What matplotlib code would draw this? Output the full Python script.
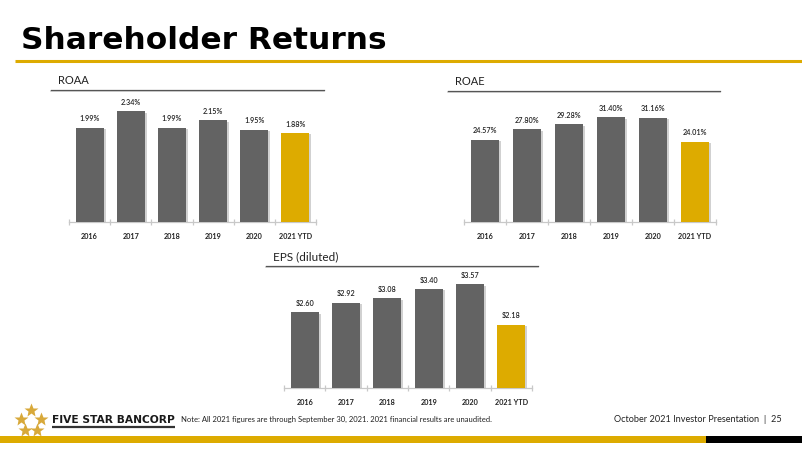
import matplotlib.pyplot as plt
from matplotlib.patches import Rectangle
import matplotlib.patheffects as pe

GRAY = '#636363'
GOLD = '#DDAB00'

years = ['2016', '2017', '2018', '2019', '2020', '2021 YTD']
roaa = [1.99, 2.34, 1.99, 2.15, 1.95, 1.88]
roae = [24.57, 27.80, 29.28, 31.40, 31.16, 24.01]
eps = [2.60, 2.92, 3.08, 3.40, 3.57, 2.18]

roaa_labels = ['%.2f%%' % v for v in roaa]
roae_labels = ['%.2f%%' % v for v in roae]
eps_labels = ['$%.2f' % v for v in eps]

W, H = 802, 451
fig = plt.figure(figsize=(W / 100, H / 100), dpi=100)

# full-figure overlay in pixel coordinates for the slide decorations
bg = fig.add_axes([0, 0, 1, 1])
bg.set_xlim(0, W)
bg.set_ylim(H, 0)
bg.axis('off')

bg.text(21, 49, 'Shareholder Returns', fontsize=22.5, fontweight='heavy',
        color='black', va='baseline', ha='left')
bg.plot([15, W], [61, 61], color=GOLD, lw=2.2, solid_capstyle='butt')


def px_axes(x0, x1, ytop, ybase):
    return fig.add_axes([x0 / W, 1 - ybase / H, (x1 - x0) / W, (ybase - ytop) / H])


def bar_panel(ax, values, labels, ymax):
    colors = [GRAY] * (len(values) - 1) + [GOLD]
    shadow = [pe.SimplePatchShadow(offset=(1.5, -1.0), shadow_rgbFace='#9a9a9a', alpha=0.45),
              pe.Normal()]
    bars = ax.bar(range(len(values)), values, width=0.68, color=colors, zorder=3)
    for b in bars:
        b.set_path_effects(shadow)
    for i, (v, lab) in enumerate(zip(values, labels)):
        ax.annotate(lab, (i, v), xytext=(0, 4), textcoords='offset points',
                    ha='center', va='bottom', fontsize=5.2, color='#222222',
                    family='Lato', fontweight='semibold')
    ax.set_xlim(-0.5, len(values) - 0.5)
    ax.set_ylim(0, ymax)
    for s in ['top', 'left', 'right']:
        ax.spines[s].set_visible(False)
    ax.spines['bottom'].set_color('#c8c8c8')
    ax.spines['bottom'].set_linewidth(0.9)
    ax.set_yticks([])
    ax.set_xticks([i - 0.5 for i in range(len(values) + 1)], minor=False)
    ax.set_xticklabels([])
    ax.tick_params(axis='x', which='major', direction='inout', length=5,
                   color='#c8c8c8', width=0.9)
    ax.set_xticks(range(len(values)), minor=True)
    ax.set_xticklabels(years, minor=True, fontsize=5.2, fontweight='bold',
                       color='#222222', family='Lato')
    ax.tick_params(axis='x', which='minor', length=0, pad=8)
    ax.patch.set_visible(False)


def header(x0, x1, y_line, text, size):
    bg.plot([x0, x1], [y_line + 1.2, y_line + 1.2], color='#d0d0d0', lw=1.2)
    bg.plot([x0, x1], [y_line, y_line], color='#555555', lw=0.9)
    bg.text(x0 + 7, y_line - 6, text, fontsize=size, color='#222222',
            family='Lato', va='baseline', ha='left')


header(51, 324, 90, 'ROAA', 8)
header(448, 720, 91, 'ROAE', 8)
header(266, 538, 266, 'EPS (diluted)', 8.5)

ax1 = px_axes(69, 316, 95, 222)
bar_panel(ax1, roaa, roaa_labels, 127 / 47.3)

ax2 = px_axes(464, 716, 95, 222)
bar_panel(ax2, roae, roae_labels, 127 / 3.34)

ax3 = px_axes(284, 532, 262, 388)
bar_panel(ax3, eps, eps_labels, 126 / 29.1)

# footer
star_pts = [(31, 410), (21, 419), (41, 419), (25, 430), (37, 430)]
for sx, sy in star_pts:
    bg.plot(sx, sy, marker='*', markersize=10, color='#D8A93A', mec='none')
bg.text(52, 423, 'FIVE STAR BANCORP', fontsize=7.7, fontweight='bold',
        color='#1a1a1a', va='baseline', ha='left')
bg.plot([52, 175], [427, 427], color='#333333', lw=1.6, solid_capstyle='butt')
bg.text(181, 422, 'Note: All 2021 figures are through September 30, 2021. 2021 financial results are unaudited.',
        fontsize=5.5, color='#222222', family='Lato', va='baseline', ha='left')
bg.text(782, 422, 'October 2021 Investor Presentation  |  25', fontsize=6.6,
        color='#222222', family='Lato', va='baseline', ha='right')
bg.add_patch(Rectangle((0, 436), 706, 7, color=GOLD, lw=0))
bg.add_patch(Rectangle((706, 436), W - 706, 7, color='black', lw=0))

fig.savefig('out.png', dpi=100)
